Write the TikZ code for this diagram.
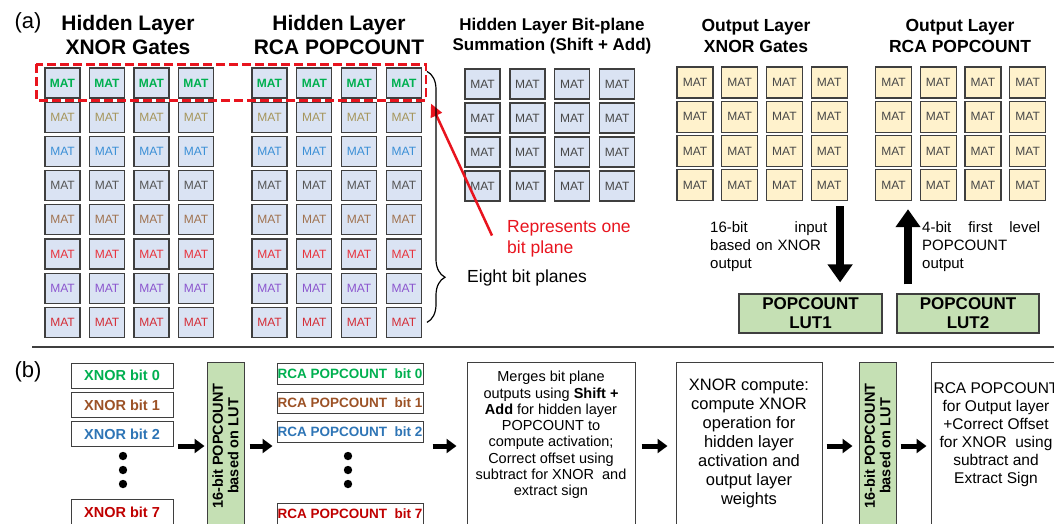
\documentclass[tikz,border=0pt]{standalone}
\usepackage{fontspec}
\setmainfont{Liberation Sans}
\usetikzlibrary{arrows.meta,positioning,decorations.pathreplacing}

\definecolor{matfill}{HTML}{DAE3F3}
\definecolor{outfill}{HTML}{FFF2CC}
\definecolor{lutfill}{HTML}{C5E0B4}
\definecolor{edgegray}{HTML}{3F3F3F}
\definecolor{matgray}{HTML}{474747}
\definecolor{planered}{HTML}{E8141E}
% one colour per bit plane
\definecolor{bitA}{HTML}{00B050}
\definecolor{bitB}{HTML}{A5955A}
\definecolor{bitC}{HTML}{3A8FD6}
\definecolor{bitD}{HTML}{555555}
\definecolor{bitE}{HTML}{A0724F}
\definecolor{bitF}{HTML}{E8323C}
\definecolor{bitG}{HTML}{8B55CE}
\definecolor{bitH}{HTML}{D42C36}
\definecolor{xbitB}{HTML}{9C5226}
\definecolor{xbitC}{HTML}{2E75B6}
\definecolor{xbitH}{HTML}{C00000}

\newcommand{\pxfont}[2]{\fontsize{#1}{#2}\selectfont}

\tikzset{
  mat/.style={draw=edgegray, line width=1.2pt, fill=matfill, inner sep=0pt,
    minimum width=35pt, minimum height=30pt, text=matgray, font=\pxfont{12}{12}},
  outmat/.style={mat, fill=outfill, minimum width=36pt, minimum height=31pt},
  heading/.style={align=center, font=\pxfont{21}{24}\bfseries},
  subheading/.style={align=center, font=\pxfont{17.5}{21}\bfseries},
  panel/.style={font=\pxfont{22}{22}},
  note/.style={anchor=north west, inner sep=0pt, align=left, font=\pxfont{15}{18}},
  lutbox/.style={draw=edgegray, line width=1.2pt, fill=lutfill, align=center,
    inner sep=0pt, font=\pxfont{17}{19}\bfseries},
  bitbox/.style={draw=edgegray, line width=1pt, fill=white, inner sep=0pt},
  flowbox/.style={draw=edgegray, line width=1pt, minimum height=176pt, inner sep=0pt},
  flowtext/.style={align=center, inner sep=0pt},
  lutbar/.style={draw=edgegray, line width=1pt, fill=lutfill, rotate=90,
    minimum width=168pt, minimum height=37pt, inner sep=0pt, align=center,
    font=\pxfont{14.5}{15.5}\bfseries},
  bigarrow/.style={line width=8pt, -{Triangle[length=18pt,width=24pt]}},
  flowarrow/.style={line width=5pt, -{Triangle[length=10pt,width=14pt]}},
  planearrow/.style={planered, line width=2.5pt, -{Triangle[length=13pt,width=12pt]}},
  planeframe/.style={draw=planered, line width=2.5pt, dash pattern=on 9pt off 4pt},
}

\begin{document}
\begin{tikzpicture}[x=1pt,y=-1pt]
  \clip (0,0) rectangle (1054,523);

  % ---- (a) ----
  \node[panel] (pa) at (28,23) {(a)};
  \node[heading] (thx) at (128,35) {Hidden Layer\\XNOR Gates};
  \node[heading] (thp) at (339,35) {Hidden Layer\\RCA POPCOUNT};
  \node[subheading, font=\pxfont{17}{20}\bfseries] (tbs) at (552,36) {Hidden Layer Bit-plane\\Summation (Shift + Add)};
  \node[subheading] (tox) at (756,36) {Output Layer\\XNOR Gates};
  \node[subheading] (top) at (960,36) {Output Layer\\RCA POPCOUNT};

  % hidden layer: eight bit planes of MATs
  \foreach \c/\f [count=\r] in {bitA/\bfseries,bitB/\mdseries,bitC/\mdseries,bitD/\mdseries,
                                bitE/\mdseries,bitF/\mdseries,bitG/\mdseries,bitH/\mdseries}
    \foreach \k in {1,...,4} {
      \node[mat, text=\c, font=\pxfont{12}{12}\f] (hx\r\k) at ({62.5+44.5*(\k-1)},{83+34.2*(\r-1)}) {MAT};
      \node[mat, text=\c, font=\pxfont{12}{12}\f] (hp\r\k) at ({269.5+44.8*(\k-1)},{83+34.2*(\r-1)}) {MAT};
    }

  % summation and output layer arrays
  \foreach \r in {1,...,4}
    \foreach \k in {1,...,4} {
      \node[mat] (bs\r\k) at ({482.5+44.9*(\k-1)},{84+34*(\r-1)}) {MAT};
      \node[outmat] (ox\r\k) at ({695+44.7*(\k-1)},{82.5+34.2*(\r-1)}) {MAT};
      \node[outmat] (op\r\k) at ({893.5+44.7*(\k-1)},{82.5+34.2*(\r-1)}) {MAT};
    }

  % one bit plane
  \coordinate (plane) at ([shift={(4pt,-2pt)}]hp14.south east);
  \draw[planeframe] ([shift={(-8pt,3pt)}]hx11.north west) rectangle (plane);
  \node[note, text=planered, font=\pxfont{17.5}{21}] (onebit) at (507,220) {Represents one\\bit plane};
  \draw[planearrow] ([shift={(-15pt,3pt)}]onebit.west) -- ([shift={(5pt,-3pt)}]plane);

  % eight bit planes
  \coordinate (bracetop) at ([shift={(5pt,-4pt)}]hp14.north east);
  \coordinate (bracebot) at ([xshift=5pt]hp84.east);
  \draw[decorate, decoration={brace, amplitude=18pt, aspect=0.82}, line width=1.2pt]
    (bracetop) -- (bracebot);
  \node[anchor=west, inner sep=0pt, font=\pxfont{17.5}{20}] (eight) at (467,278) {Eight bit planes};

  % LUT popcount
  \node[lutbox, minimum width=143pt, minimum height=39pt] (lut1) at (810.5,313.5) {POPCOUNT\\LUT1};
  \node[lutbox, minimum width=142pt, minimum height=39pt] (lut2) at (968,313.5) {POPCOUNT\\LUT2};

  \coordinate (downtop) at ([xshift=11pt]ox44.south);
  \draw[bigarrow, shorten <=5pt, shorten >=11pt] (downtop) -- (downtop |- lut1.north);
  \coordinate (uptop) at ([xshift=14.5pt]op41.south);
  \draw[bigarrow, shorten <=9pt, shorten >=8pt] (uptop |- lut2.north) -- (uptop);

  \node[note, text width=117pt] (inlabel) at (710,221) {16-bit\hfill input\\based on XNOR\\output};
  \node[note, text width=118pt] (outlabel) at (922,221) {4-bit\hfill first\hfill level\\POPCOUNT\\output};

  % ---- (b) ----
  \draw[edgegray, line width=1.2pt] (32,347) -- (1054,347);
  \node[panel] (pb) at (28,372) {(b)};

  \node[bitbox, minimum width=102pt, minimum height=25pt, text=bitA, font=\pxfont{14.5}{15}\bfseries] (xb0) at (122,375.5) {XNOR bit 0};
  \node[bitbox, minimum width=102pt, minimum height=25pt, text=xbitB, font=\pxfont{14.5}{15}\bfseries] (xb1) at (122,405) {XNOR bit 1};
  \node[bitbox, minimum width=102pt, minimum height=25pt, text=xbitC, font=\pxfont{14.5}{15}\bfseries] (xb2) at (122,434) {XNOR bit 2};
  \node[bitbox, minimum width=102pt, minimum height=25pt, text=xbitH, font=\pxfont{14.5}{15}\bfseries] (xb7) at (122,512) {XNOR bit 7};

  \node[bitbox, minimum width=146pt, minimum height=21pt, text=bitA, font=\pxfont{13.5}{14}\bfseries] (rb0) at (350,373.5) {RCA POPCOUNT\ \ bit 0};
  \node[bitbox, minimum width=146pt, minimum height=21pt, text=xbitB, font=\pxfont{13.5}{14}\bfseries] (rb1) at (350,402.5) {RCA POPCOUNT\ \ bit 1};
  \node[bitbox, minimum width=146pt, minimum height=21pt, text=xbitC, font=\pxfont{13.5}{14}\bfseries] (rb2) at (350,431.5) {RCA POPCOUNT\ \ bit 2};
  \node[bitbox, minimum width=146pt, minimum height=21pt, text=xbitH, font=\pxfont{13.5}{14}\bfseries] (rb7) at (350,514) {RCA POPCOUNT\ \ bit 7};

  \foreach \y in {456,470,484} {
    \fill (123,\y) circle (4.2pt);
    \fill (348,\y) circle (4.2pt);
  }

  \node[lutbar] (luta) at (225.5,446) {16-bit POPCOUNT\\based on LUT};
  \node[lutbar] (lutb) at (877.5,446) {16-bit POPCOUNT\\based on LUT};

  \node[flowbox, minimum width=168pt] (merge) at (551,450) {};
  \node[flowtext, font=\pxfont{14.5}{16.3}] (mergetext) at (551,435)
    {Merges bit plane\\outputs using \textbf{Shift +}\\\textbf{Add} for hidden layer\\POPCOUNT to\\compute activation;\\Correct offset using\\subtract for XNOR\ \ and\\extract sign};

  \node[flowbox, minimum width=146pt] (xcomp) at (749,450) {};
  \node[flowtext, font=\pxfont{16.5}{19}] (xcomptext) at (749,443)
    {XNOR compute:\\compute XNOR\\operation for\\hidden layer\\activation and\\output layer\\weights};

  \node[flowbox, minimum width=132pt] (rcaout) at (997,450) {};
  \node[flowtext, font=\pxfont{15.5}{18}] (rcaouttext) at (996,435)
    {RCA POPCOUNT\\for Output layer\\+Correct Offset\\for XNOR\ \ using\\subtract and\\Extract Sign};

  \draw[flowarrow, shorten <=4pt, shorten >=2pt] (xb2.east |- luta.north) -- (luta.north);
  \draw[flowarrow, shorten <=5pt, shorten >=4pt] (luta.south) -- (luta.south -| rb2.west);
  \draw[flowarrow, shorten <=9pt, shorten >=10pt] (rb2.east |- luta.south) -- (luta.south -| merge.west);
  \draw[flowarrow, shorten <=6pt, shorten >=8pt] (merge.east |- luta.south) -- (luta.south -| xcomp.west);
  \draw[flowarrow, shorten <=4pt, shorten >=6pt] (xcomp.east |- lutb.north) -- (lutb.north);
  \draw[flowarrow, shorten <=4pt, shorten >=4pt] (lutb.south) -- (lutb.south -| rcaout.west);
\end{tikzpicture}
\end{document}
